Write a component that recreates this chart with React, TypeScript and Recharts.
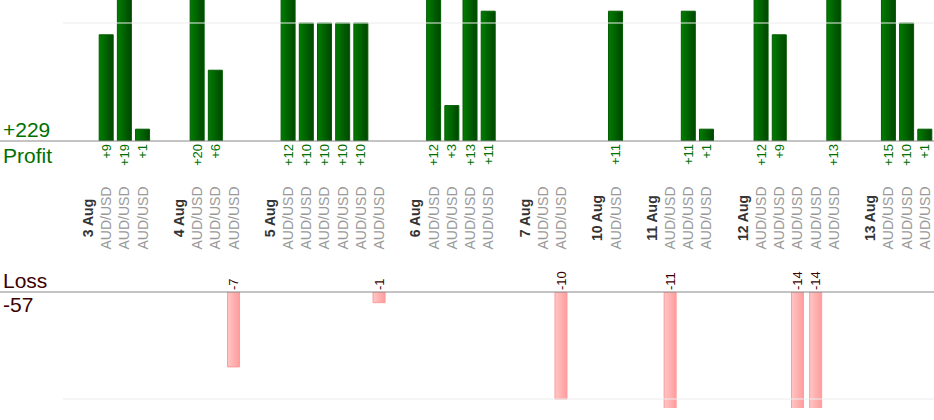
import React from 'react';
import { BarChart, Bar, XAxis, YAxis, ReferenceLine, LabelList } from 'recharts';

// one slot per tick: a date header, its trades, then an empty spacer slot
const categories: string[] = [
  '3 Aug', 'AUD/USD', 'AUD/USD', 'AUD/USD', '',
  '4 Aug', 'AUD/USD', 'AUD/USD', 'AUD/USD', '',
  '5 Aug', 'AUD/USD', 'AUD/USD', 'AUD/USD', 'AUD/USD', 'AUD/USD', 'AUD/USD', '',
  '6 Aug', 'AUD/USD', 'AUD/USD', 'AUD/USD', 'AUD/USD', '',
  '7 Aug', 'AUD/USD', 'AUD/USD', '',
  '10 Aug', 'AUD/USD', '',
  '11 Aug', 'AUD/USD', 'AUD/USD', 'AUD/USD', '',
  '12 Aug', 'AUD/USD', 'AUD/USD', 'AUD/USD', 'AUD/USD', 'AUD/USD', '',
  '13 Aug', 'AUD/USD', 'AUD/USD', 'AUD/USD',
];

const profits: (number | null)[] = [
  null, 9, 19, 1, null,
  null, 20, 6, null, null,
  null, 12, 10, 10, 10, 10, null, null,
  null, 12, 3, 13, 11, null,
  null, null, null, null,
  null, 11, null,
  null, null, 11, 1, null,
  null, 12, 9, null, null, 13, null,
  null, 15, 10, 1,
];

const losses: (number | null)[] = [
  null, null, null, null, null,
  null, null, null, -7, null,
  null, null, null, null, null, null, -1, null,
  null, null, null, null, null, null,
  null, null, -10, null,
  null, null, null,
  null, -11, null, null, null,
  null, null, null, -14, -14, null, null,
  null, null, null, null,
];

const profitDomain = [0, 11.95];
const lossDomain = [-10.84, 0];

const totalProfit = profits.reduce<number>((s, v) => s + (v ?? 0), 0);
const totalLoss = losses.reduce<number>((s, v) => s + (v ?? 0), 0);

const data = categories.map((label, i) => ({
  slot: `s${i}`,
  label,
  profit: profits[i],
  loss: losses[i],
}));

const FONT = '"Liberation Sans", Arial, Helvetica, sans-serif';
const GREEN = '#007000';
const MAROON = '#3c0000';
const AXIS = '#888';

const CategoryTick = (props: any) => {
  const { x, y, payload } = props;
  const row = data.find((d) => d.slot === payload?.value);
  if (!row || !row.label) return null;
  const isDate = row.label.includes('Aug');
  const ty = y + 77;
  return (
    <text
      x={x}
      y={ty}
      dy="0.35em"
      transform={`rotate(-90 ${x} ${ty})`}
      textAnchor="middle"
      fontFamily={FONT}
      fontSize={14}
      fontWeight={isDate ? 'bold' : 'normal'}
      fill={isDate ? '#333' : '#999'}
    >
      {row.label}
    </text>
  );
};

const barBox = (props: any) => {
  const vb = props.viewBox && props.viewBox.width != null ? props.viewBox : props;
  const top = Math.min(vb.y, vb.y + vb.height);
  const bottom = Math.max(vb.y, vb.y + vb.height);
  return { cx: vb.x + vb.width / 2, top, bottom };
};

const ProfitLabel = (props: any) => {
  if (props.value == null) return null;
  const { cx, bottom } = barBox(props);
  const ty = bottom + 3;
  return (
    <text
      x={cx}
      y={ty}
      dy="0.35em"
      transform={`rotate(-90 ${cx} ${ty})`}
      textAnchor="end"
      fontFamily={FONT}
      fontSize={13}
      fill={GREEN}
    >
      +{props.value}
    </text>
  );
};

const LossLabel = (props: any) => {
  if (props.value == null) return null;
  const { cx, top } = barBox(props);
  const ty = top - 2;
  return (
    <text
      x={cx}
      y={ty}
      dy="0.35em"
      transform={`rotate(-90 ${cx} ${ty})`}
      textAnchor="start"
      fontFamily={FONT}
      fontSize={13}
      fill={MAROON}
    >
      {props.value}
    </text>
  );
};

const ProfitAxisTick = (props: any) => {
  const { x, y, payload } = props;
  if (payload?.value !== 0) return null;
  return (
    <g>
      <line x1={0} x2={x} y1={y} y2={y} stroke={AXIS} />
      <text x={3} y={y - 4} fontFamily={FONT} fontSize={21} fill={GREEN}>
        +{totalProfit}
      </text>
      <text x={3} y={y + 22} fontFamily={FONT} fontSize={21} fill={GREEN}>
        Profit
      </text>
    </g>
  );
};

const LossAxisTick = (props: any) => {
  const { x, y, payload } = props;
  if (payload?.value !== 0) return null;
  return (
    <g>
      <line x1={0} x2={x} y1={y} y2={y} stroke={AXIS} />
      <text x={3} y={y - 4} fontFamily={FONT} fontSize={21} fill={MAROON}>
        Loss
      </text>
      <text x={3} y={y + 20} fontFamily={FONT} fontSize={21} fill={MAROON}>
        {totalLoss}
      </text>
    </g>
  );
};

export default function App() {
  return (
    <div style={{ width: 934, height: 420, fontFamily: FONT, background: '#fff' }}>
      <style>{'body{margin:0;}'}</style>
      <svg width={0} height={0} style={{ position: 'absolute' }}>
        <defs>
          <linearGradient id="profitGrad" x1="0" y1="0" x2="1" y2="0">
            <stop offset="0%" stopColor="#007d00" />
            <stop offset="100%" stopColor="#004600" />
          </linearGradient>
          <linearGradient id="lossGrad" x1="0" y1="0" x2="1" y2="0">
            <stop offset="0%" stopColor="#ffc6c6" />
            <stop offset="100%" stopColor="#ff9c9c" />
          </linearGradient>
        </defs>
      </svg>

      <BarChart width={934} height={270} data={data} margin={{ top: 0, right: 0, left: 0, bottom: 0 }}>
        <XAxis
          dataKey="slot"
          height={129}
          padding={{ left: 16, right: 0 }}
          interval={0}
          tickSize={0}
          tickMargin={0}
          tickLine={false}
          axisLine={{ stroke: AXIS }}
          tick={<CategoryTick />}
        />
        <YAxis
          width={63}
          domain={profitDomain}
          allowDataOverflow
          ticks={[0]}
          tickSize={0}
          tickMargin={0}
          tickLine={false}
          axisLine={false}
          tick={<ProfitAxisTick />}
        />
        <ReferenceLine y={10} stroke="#ececec" />
        <Bar
          dataKey="profit"
          barSize={14}
          fill="url(#profitGrad)"
          stroke="#005c00"
          strokeWidth={1}
          isAnimationActive={false}
        >
          <LabelList dataKey="profit" content={<ProfitLabel />} />
        </Bar>
      </BarChart>

      <BarChart width={934} height={138} data={data} margin={{ top: 0, right: 0, left: 0, bottom: 0 }}>
        <XAxis
          dataKey="slot"
          orientation="top"
          height={22}
          padding={{ left: 16, right: 0 }}
          interval={0}
          tickLine={false}
          tick={false}
          axisLine={{ stroke: AXIS }}
        />
        <YAxis
          width={63}
          domain={lossDomain}
          allowDataOverflow
          ticks={[0]}
          tickSize={0}
          tickMargin={0}
          tickLine={false}
          axisLine={false}
          tick={<LossAxisTick />}
        />
        <ReferenceLine y={-10} stroke="#ececec" />
        <Bar
          dataKey="loss"
          barSize={12}
          fill="url(#lossGrad)"
          stroke="#ff9999"
          strokeWidth={1}
          isAnimationActive={false}
        >
          <LabelList dataKey="loss" content={<LossLabel />} />
        </Bar>
      </BarChart>
    </div>
  );
}
